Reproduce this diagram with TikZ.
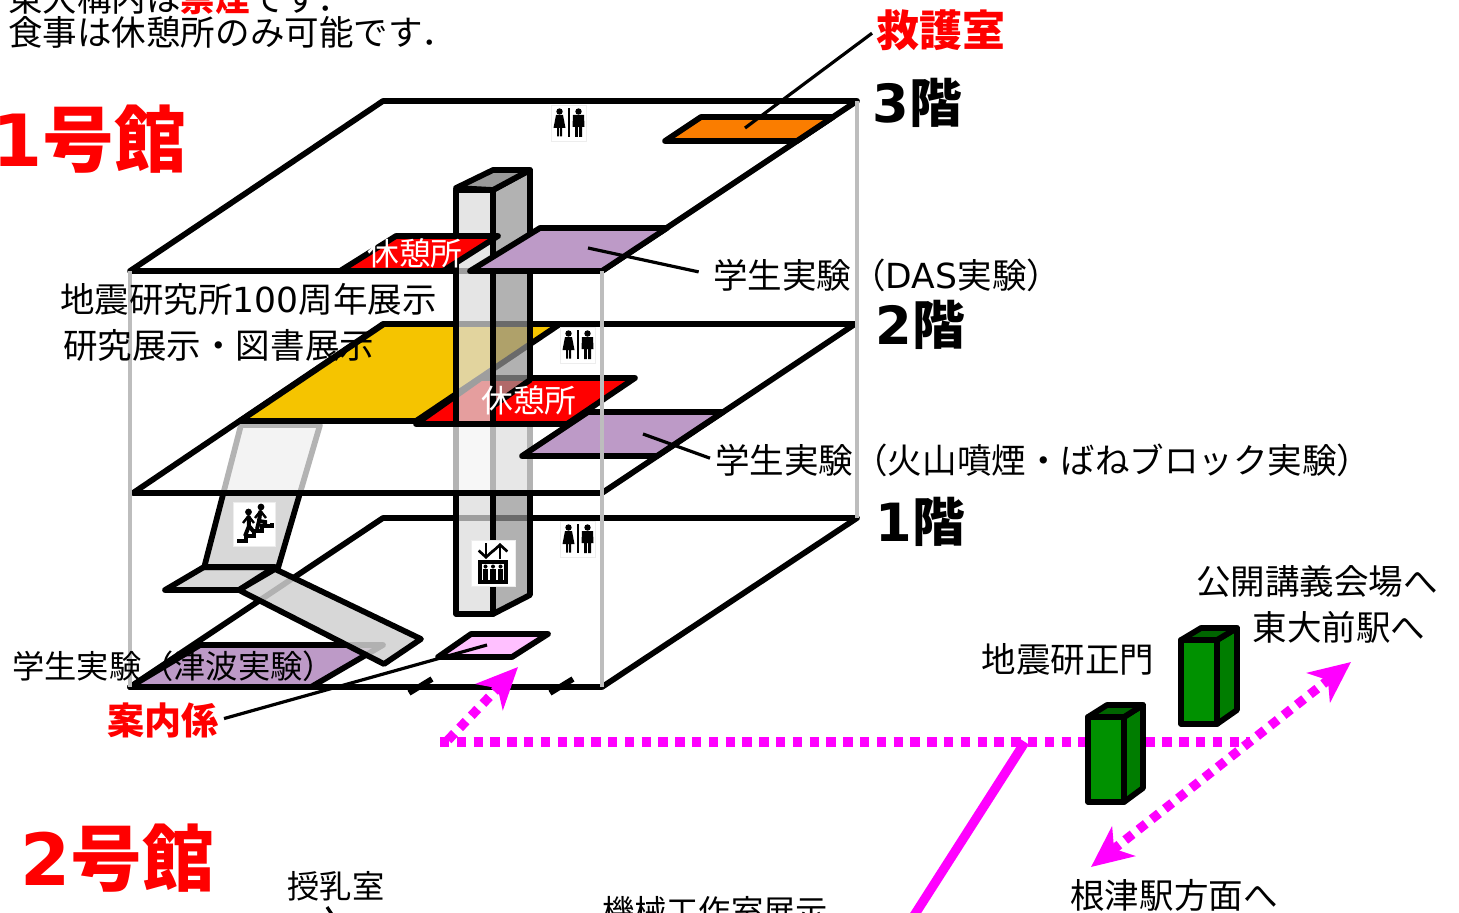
\documentclass[tikz,border=0pt]{standalone}
\usepackage{fontspec}
\setmainfont{Noto Sans CJK JP}
\newfontfamily\latinfont{DejaVu Sans}
\usetikzlibrary{arrows.meta}

\definecolor{roomred}{RGB}{255,0,0}
\definecolor{roompurple}{RGB}{189,154,199}
\definecolor{roomyellow}{RGB}{245,196,0}
\definecolor{roomorange}{RGB}{250,125,0}
\definecolor{roompink}{RGB}{255,192,255}
\definecolor{guide}{RGB}{255,0,255}
\definecolor{gatefront}{RGB}{0,145,0}
\definecolor{gateside}{RGB}{0,125,0}
\definecolor{gatetop}{RGB}{0,100,0}

\tikzset{
  edgeline/.style={draw=black,line width=4.3pt,line join=round},
  floorplate/.style={edgeline,fill=white},
  veil/.style={edgeline,fill=white,fill opacity=.7},
  room/.style={edgeline},
  floorpost/.style={draw=black!26,line width=3.6pt},
  shaftfront/.style={edgeline,fill=black!14,fill opacity=.72},
  shaftside/.style={edgeline,fill=black!42,fill opacity=.72},
  stairflat/.style={edgeline,fill=black!18,fill opacity=.85},
  leader/.style={draw=black,line width=2.4pt},
  routeline/.style={draw=guide,line width=7pt},
  routedot/.style={routeline,dash pattern=on 7pt off 5.6pt},
  routetip/.style={-{Stealth[length=31pt,width=28pt,inset=9pt]}},
  routetips/.style={{Stealth[length=31pt,width=28pt,inset=9pt]}-{Stealth[length=31pt,width=28pt,inset=9pt]}},
  gateline/.style={draw=black,line width=4.3pt,line join=round},
  textlabel/.style={inner sep=0pt,font=\fontsize{25.9}{26}\selectfont},
  smalllabel/.style={inner sep=0pt,font=\fontsize{24.2}{25}\selectfont},
  restlabel/.style={inner sep=0pt,text=white,font=\fontsize{23.8}{24}\selectfont},
  floorlabel/.style={inner sep=0pt,font=\fontsize{39.5}{40}\selectfont\bfseries},
  buildlabel/.style={inner sep=0pt,text=roomred,font=\fontsize{54}{54}\selectfont\bfseries},
  redlabel/.style={inner sep=0pt,text=roomred,font=\fontsize{32.2}{33}\selectfont\bfseries},
  iconbox/.style={draw=black!7,line width=.6pt,fill=white},
  toilet/.pic={
    \path[iconbox] (-17.5,-18) rectangle (17.5,18);
    \fill (-9.5,-11.5) circle (3.2);
    \fill (-13,-8) -- (-6,-8) -- (-3.5,5) -- (-7,5) -- (-7,13.5) -- (-9,13.5) -- (-9,5) -- (-10,5) -- (-10,13.5) -- (-12,13.5) -- (-12,5) -- (-15.5,5) -- cycle;
    \fill (-1,-15) rectangle (1,14);
    \fill (9.5,-11.5) circle (3.2);
    \fill (4,-8) -- (15,-8) -- (15.5,4) -- (13,4) -- (13,14) -- (10.2,14) -- (10,4) -- (9,4) -- (8.8,14) -- (6,14) -- (6,4) -- (3.5,4) -- cycle;
  },
  stairsign/.pic={
    \path[iconbox] (-21,-22) rectangle (21,22);
    \draw[line width=3.2pt,line join=miter] (-17,17) -- (-8,17) -- (-8,12) -- (0,12) -- (0,7) -- (8,7) -- (8,2) -- (18,2) -- (18,-1);
    \fill (-5.5,-12) circle (3.4);
    \draw[line width=3pt] (-5.5,-8) -- (-5,2) -- (-9,12);
    \draw[line width=3pt] (-5,2) -- (0,8);
    \draw[line width=1.8pt] (-11,-1) -- (-5.5,-8) -- (0,-1);
    \fill (7,-17) circle (3.4);
    \draw[line width=3pt] (6.5,-13) -- (5,-3) -- (3,5);
    \draw[line width=3pt] (5,-3) -- (11,-2) -- (11,3);
    \draw[line width=1.8pt] (1,-6) -- (6.5,-13) -- (12,-6);
  },
  liftsign/.pic={
    \path[iconbox] (-22,-23) rectangle (22,23);
    \draw[line width=2pt,-{Straight Barb[length=5pt,width=11pt]}] (-7,-20) -- (-7,-4);
    \draw[line width=2pt,-{Straight Barb[length=5pt,width=11pt]}] (7,-4) -- (7,-20);
    \draw[line width=2.4pt] (-13,-1) rectangle (13,19);
    \foreach \px in {-7.5,0,7.5}{
      \fill (\px,3.5) circle (2);
      \fill (\px-2.6,6) rectangle (\px+2.6,16.5);
    }
  },
}

\begin{document}
\begin{tikzpicture}[x=.75pt,y=-.75pt]
  \clip (0,0) rectangle (1459,913);

  % route corners and line ends
  \coordinate (routeW) at (440,742);
  \coordinate (routeE) at (1250,742);
  \coordinate (routeTurn) at (448,740);
  \coordinate (routeEntry) at (518,667);
  \coordinate (routeSW) at (1091,867);
  \coordinate (routeNE) at (1351,662);
  \coordinate (routeFork) at (1025,742);
  \coordinate (routeDown) at (908,925);
  \coordinate (noteHelp) at (487,645);
  \coordinate (noteAid) at (745,128);
  \coordinate (noteDas) at (588,248);
  \coordinate (noteSmoke) at (643,434);
  \coordinate (noteBaby) at (327,907);
  \coordinate (noteBabyEnd) at (333,916);

  % first floor
  \path[floorplate] (383,518) -- (857,518) -- (602,687) -- (130,687) -- cycle;
  \path[room,fill=roompurple] (130,687) -- (200,645) -- (383,645) -- (311,687) -- cycle;
  \path[room,fill=roompink] (438,657) -- (471,634) -- (548,634) -- (512,657) -- cycle;
  \draw[edgeline] (409,693) -- (432,679);
  \draw[edgeline] (550,693) -- (573,679);

  % shaft below the second floor
  \path[shaftfront] (456,424) -- (493,424) -- (493,614) -- (456,614) -- cycle;
  \path[shaftside] (493,424) -- (530,424) -- (530,595) -- (493,614) -- cycle;

  % stairs
  \path[stairflat] (241,425) -- (320,425) -- (278,568) -- (204,568) -- cycle;
  \path[stairflat] (165,590) -- (204,567) -- (275,567) -- (239,590) -- cycle;
  \path[stairflat] (275,569) -- (421,639) -- (384,664) -- (239,590) -- cycle;

  % second floor
  \path[veil] (383,324) -- (855,324) -- (602,493) -- (133,493) -- cycle;
  \path[room,fill=roomyellow] (240,421) -- (384,324) -- (560,324) -- (416,421) -- cycle;
  \path[room,fill=roomred] (416,424) -- (481,378) -- (635,378) -- (567,424) -- cycle;
  \path[room,fill=roompurple] (522,456) -- (588,412) -- (723,412) -- (657,456) -- cycle;

  % third floor
  \path[edgeline] (383,101) -- (857,101) -- (602,271) -- (130,271) -- cycle;

  % shaft above the second floor
  \path[shaftfront] (456,190) -- (493,190) -- (493,424) -- (456,424) -- cycle;
  \path[shaftside] (530,170) -- (530,380) -- (493,406) -- (493,190) -- cycle;
  \path[edgeline,fill=black!40] (456,188) -- (493,170) -- (530,170) -- (493,190) -- cycle;
  \draw[edgeline] (416,424) -- (567,424);

  % rooms of the third floor
  \path[room,fill=roomred] (340,271) -- (396,236) -- (498,236) -- (443,271) -- cycle;
  \path[room,fill=roompurple] (470,271) -- (540,228) -- (667,228) -- (602,271) -- cycle;
  \path[room,fill=roomorange] (665,141) -- (701,117) -- (833,117) -- (797,141) -- cycle;

  % posts
  \draw[floorpost] (130,271) -- (130,687);
  \draw[floorpost] (602,271) -- (602,687);
  \draw[floorpost] (857,101) -- (857,518);

  % signs
  \pic at (569,123) {toilet};
  \pic at (578,345) {toilet};
  \pic at (578,539) {toilet};
  \pic at (254,524) {stairsign};
  \pic at (493,563) {liftsign};

  % texts
  \node[textlabel,anchor=west] (ruleA) at (8,-2) {東大構内は\textcolor{roomred}{\bfseries 禁煙}です．};
  \node[textlabel,anchor=west] (ruleB) at (8,32) {食事は休憩所のみ可能です．};
  \node[buildlabel,anchor=west] (hallA) at (-8,139) {{\latinfont 1}号館};
  \node[buildlabel,anchor=west] (hallB) at (20,858) {{\latinfont 2}号館};
  \node[redlabel] (aid) at (941,30) {救護室};
  \node[floorlabel] (floorC) at (917,103) {{\latinfont 3}階};
  \node[floorlabel] (floorB) at (920,325) {{\latinfont 2}階};
  \node[floorlabel] (floorA) at (920,522) {{\latinfont 1}階};
  \node[textlabel,anchor=west] (expoA) at (60,299) {地震研究所{\latinfont 100}周年展示};
  \node[textlabel,anchor=west] (expoB) at (63,345) {研究展示・図書展示};
  \node[restlabel] (restC) at (415,253) {休憩所};
  \node[restlabel] (restB) at (529,400) {休憩所};
  \node[textlabel,anchor=west] (labDas) at (713,275) {学生実験（{\latinfont DAS}実験）};
  \node[textlabel,anchor=west] (labSmoke) at (715,460) {学生実験（火山噴煙・ばねブロック実験）};
  \node[smalllabel,anchor=west] (labWave) at (12,666) {学生実験（津波実験）};
  \node[redlabel,font=\fontsize{27.8}{28}\selectfont\bfseries] (help) at (163,720) {案内係};
  \node[textlabel] (hall) at (1317,581) {公開講義会場へ};
  \node[textlabel] (todai) at (1339,627) {東大前駅へ};
  \node[textlabel] (gate) at (1068,659) {地震研正門};
  \node[textlabel] (nezu) at (1174,895) {根津駅方面へ};
  \node[smalllabel] (baby) at (336,886) {授乳室};
  \node[smalllabel] (tool) at (715,911) {機械工作室展示};

  % leaders
  \path[leader,shorten <=4pt] (aid.west) edge (noteAid);
  \path[leader,shorten <=11pt] (labDas.west) edge (noteDas);
  \path[leader,shorten <=4pt] (labSmoke.west) edge (noteSmoke);
  \path[leader,shorten <=4pt] (help.east) edge (noteHelp);
  \path[leader] (noteBaby) edge (noteBabyEnd);

  % routes
  \draw[routedot] (routeW) -- (routeE);
  \draw[routeline] (routeFork) -- (routeDown);
  \draw[routedot,routetip] (routeTurn) -- (routeEntry);
  \draw[routedot,routetips] (routeSW) -- (routeNE);

  % main gate
  \path[gateline,fill=gatefront] (1181,640) rectangle (1217,724);
  \path[gateline,fill=gateside] (1217,640) -- (1237,628) -- (1237,710) -- (1217,724) -- cycle;
  \path[gateline,fill=gatetop] (1181,640) -- (1201,628) -- (1237,628) -- (1217,640) -- cycle;
  \draw[line width=1pt] (1217,640) -- (1217,724);
  \path[gateline,fill=gatefront] (1088,717) rectangle (1124,802);
  \path[gateline,fill=gateside] (1124,717) -- (1143,705) -- (1143,788) -- (1124,802) -- cycle;
  \path[gateline,fill=gatetop] (1088,717) -- (1107,705) -- (1143,705) -- (1124,717) -- cycle;
  \draw[line width=1pt] (1124,717) -- (1124,802);
\end{tikzpicture}
\end{document}
